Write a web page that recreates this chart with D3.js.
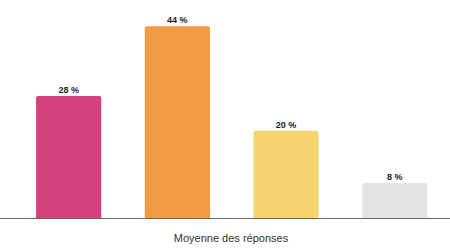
<!DOCTYPE html>
<html>
<head>
<meta charset="utf-8">
<script src="https://cdn.jsdelivr.net/npm/d3@7"></script>
<style>
  body { margin: 0; background: #fff; }
  svg { display: block; font-family: "Liberation Sans", Arial, sans-serif; }
</style>
</head>
<body>
<div id="chart"></div>
<script>
// données du graphique
const categories = ["A", "B", "C", "D"];
const values = [28, 44, 20, 8];
const colors = ["#d5417b", "#f19b44", "#f7d46f", "#e4e4e4"];
const axisTitle = "Moyenne des réponses";

const width = 450, height = 250;
const baseY = 218;

const svg = d3.select("#chart")
  .append("svg")
  .attr("width", width)
  .attr("height", height);

// échelles
const x = d3.scaleBand()
  .domain(categories)
  .range([14.3, 449.1])
  .paddingInner(0.4)
  .paddingOuter(0.2);

const y = d3.scaleLinear()
  .domain([0, 50])
  .range([baseY, 0]);

// barres (coins arrondis en haut)
const r = 2;
const barPath = d => {
  const x0 = x(d.cat), w = x.bandwidth(), y0 = y(d.v);
  return `M${x0},${baseY}V${y0 + r}Q${x0},${y0} ${x0 + r},${y0}H${x0 + w - r}Q${x0 + w},${y0} ${x0 + w},${y0 + r}V${baseY}Z`;
};

const data = categories.map((c, i) => ({cat: c, v: values[i], color: colors[i]}));

svg.append("g")
  .selectAll("path")
  .data(data)
  .enter()
  .append("path")
  .attr("d", barPath)
  .attr("fill", d => d.color);

// étiquettes de valeur
svg.append("g")
  .selectAll("text")
  .data(data)
  .enter()
  .append("text")
  .attr("x", d => x(d.cat) + x.bandwidth() / 2)
  .attr("y", d => y(d.v) - 3)
  .attr("text-anchor", "middle")
  .attr("font-size", "9px")
  .attr("font-weight", "bold")
  .attr("fill", "#222")
  .text(d => d.v + " %");

// axe horizontal
svg.append("line")
  .attr("x1", 0)
  .attr("x2", width)
  .attr("y1", baseY + 0.5)
  .attr("y2", baseY + 0.5)
  .attr("stroke", "#666")
  .attr("stroke-width", 1);

// titre de l'axe
svg.append("text")
  .attr("x", 231)
  .attr("y", 242)
  .attr("text-anchor", "middle")
  .attr("font-size", "11px")
  .attr("fill", "#333")
  .text(axisTitle);
</script>
</body>
</html>
